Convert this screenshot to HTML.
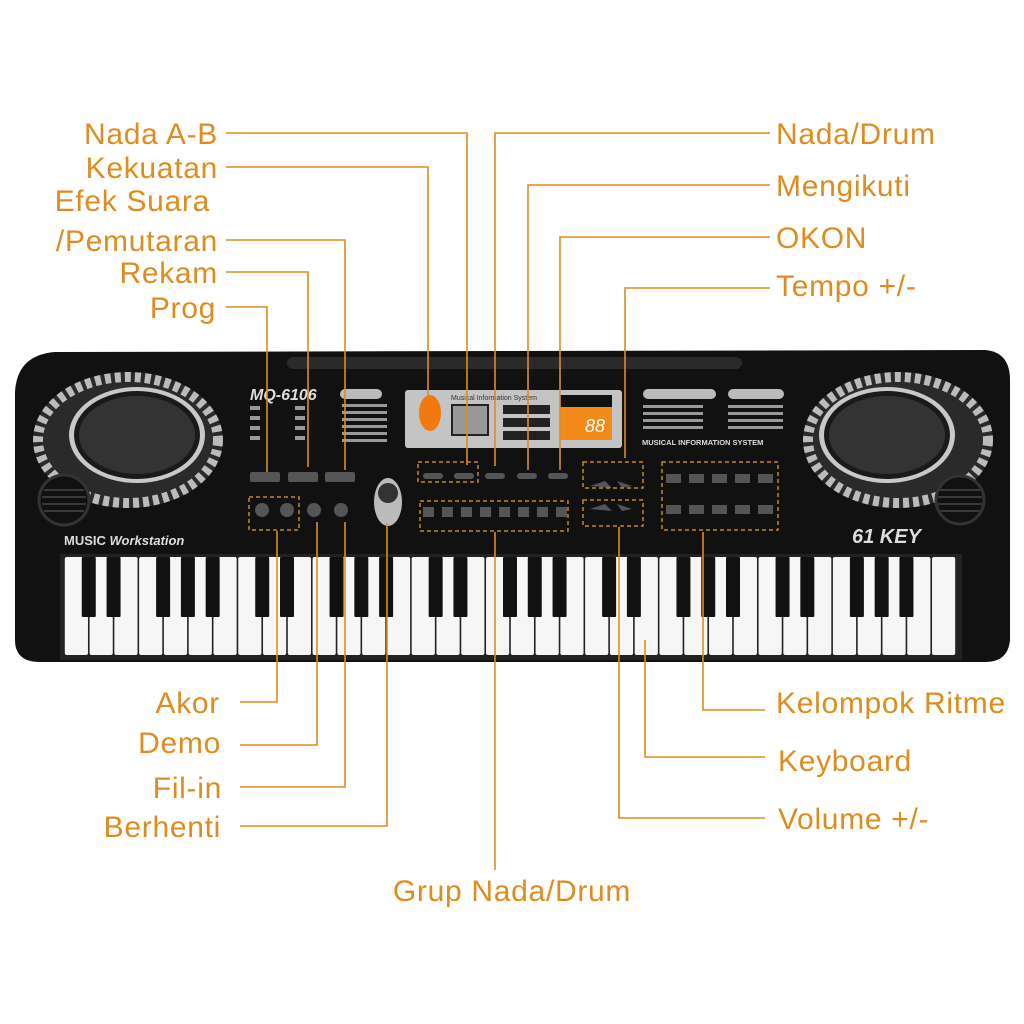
<!DOCTYPE html>
<html><head><meta charset="utf-8"><style>
html,body{margin:0;padding:0;background:#fff;}
svg{display:block;}
.l{font-family:"Liberation Sans",sans-serif;font-size:30px;letter-spacing:0.7px;fill:#de8c1f;}
.s{font-family:"Liberation Sans",sans-serif;fill:#ddd;font-weight:bold;}
</style></head><body>
<svg width="1024" height="1024" viewBox="0 0 1024 1024" xmlns="http://www.w3.org/2000/svg">
<rect width="1024" height="1024" fill="#fff"/>
<path d="M55,352 L985,350 Q1010,352 1010,380 L1010,640 Q1008,662 985,662 L40,662 Q15,662 15,640 L15,392 Q17,355 55,352 Z" fill="#111"/>
<rect x="287" y="357" width="455" height="12" rx="6" fill="#2a2a2a"/>
<ellipse cx="128" cy="440" rx="95" ry="68" fill="#2a2a2a"/>
<ellipse cx="128" cy="440" rx="90" ry="63" fill="none" stroke="#bbb" stroke-width="10" stroke-dasharray="6 4"/>
<ellipse cx="137" cy="435" rx="68" ry="48" fill="#c8c8c8"/>
<ellipse cx="137" cy="435" rx="63" ry="44" fill="#1a1a1a"/>
<ellipse cx="137" cy="435" rx="58" ry="39" fill="#333"/>
<circle cx="64" cy="500" r="25" fill="#111" stroke="#333" stroke-width="3"/>
<g stroke="#3a3a3a" stroke-width="2"><line x1="44" y1="490" x2="84" y2="490"/><line x1="42" y1="497" x2="86" y2="497"/><line x1="42" y1="504" x2="86" y2="504"/><line x1="44" y1="511" x2="84" y2="511"/></g>
<ellipse cx="898" cy="440" rx="95" ry="68" fill="#2a2a2a"/>
<ellipse cx="898" cy="440" rx="90" ry="63" fill="none" stroke="#bbb" stroke-width="10" stroke-dasharray="6 4"/>
<ellipse cx="887" cy="435" rx="68" ry="48" fill="#c8c8c8"/>
<ellipse cx="887" cy="435" rx="63" ry="44" fill="#1a1a1a"/>
<ellipse cx="887" cy="435" rx="58" ry="39" fill="#333"/>
<circle cx="960" cy="500" r="24" fill="#111" stroke="#333" stroke-width="3"/>
<g stroke="#3a3a3a" stroke-width="2"><line x1="940" y1="490" x2="980" y2="490"/><line x1="938" y1="497" x2="982" y2="497"/><line x1="938" y1="504" x2="982" y2="504"/><line x1="940" y1="511" x2="980" y2="511"/></g>
<text x="250" y="400" class="s" font-size="16" font-style="italic" fill="#ddd">MQ-6106</text>
<rect x="340" y="389" width="42" height="10" rx="5" fill="#bbb"/>
<text x="64" y="545" class="s" font-size="13">MUSIC <tspan font-style="italic">Workstation</tspan></text>
<text x="852" y="543" class="s" font-size="20" font-style="italic">61 KEY</text>
<g fill="#999"><rect x="250" y="406" width="10" height="4"/><rect x="250" y="416" width="10" height="4"/><rect x="250" y="426" width="10" height="4"/><rect x="250" y="436" width="10" height="4"/><rect x="295" y="406" width="10" height="4"/><rect x="295" y="416" width="10" height="4"/><rect x="295" y="426" width="10" height="4"/><rect x="295" y="436" width="10" height="4"/>
<rect x="342" y="404" width="45" height="3"/><rect x="342" y="411" width="45" height="3"/><rect x="342" y="418" width="45" height="3"/><rect x="342" y="425" width="45" height="3"/><rect x="342" y="432" width="45" height="3"/><rect x="342" y="439" width="45" height="3"/>
<rect x="643" y="389" width="73" height="10" rx="5" fill="#bbb"/><rect x="728" y="389" width="56" height="10" rx="5" fill="#bbb"/>
<rect x="643" y="405" width="60" height="3"/><rect x="643" y="412" width="60" height="3"/><rect x="643" y="419" width="60" height="3"/><rect x="643" y="426" width="60" height="3"/><rect x="728" y="405" width="55" height="3"/><rect x="728" y="412" width="55" height="3"/><rect x="728" y="419" width="55" height="3"/><rect x="728" y="426" width="55" height="3"/></g>
<text x="642" y="445" class="s" font-size="7.5" fill="#ccc">MUSICAL INFORMATION SYSTEM</text>
<rect x="405" y="390" width="217" height="58" rx="3" fill="#c4c4c4"/>
<ellipse cx="430" cy="413" rx="11" ry="18" fill="#f07a10"/>
<rect x="452" y="405" width="36" height="30" fill="#999" stroke="#222" stroke-width="2"/>
<text x="451" y="400" font-family="Liberation Sans" font-size="7" fill="#333">Musical Information System</text>
<rect x="503" y="405" width="47" height="9" fill="#222"/><rect x="503" y="418" width="47" height="9" fill="#222"/><rect x="503" y="431" width="47" height="9" fill="#222"/>
<rect x="560" y="395" width="52" height="45" fill="#f28a1a"/>
<rect x="560" y="395" width="52" height="12" fill="#111"/>
<text x="585" y="432" font-family="Liberation Sans" font-size="18" fill="#fff" font-style="italic">88</text>
<g fill="#555"><rect x="250" y="472" width="30" height="10" rx="2"/><rect x="288" y="472" width="30" height="10" rx="2"/><rect x="325" y="472" width="30" height="10" rx="2"/>
<rect x="423" y="473" width="20" height="6" rx="3"/><rect x="454" y="473" width="20" height="6" rx="3"/><rect x="485" y="473" width="20" height="6" rx="3"/><rect x="517" y="473" width="20" height="6" rx="3"/><rect x="548" y="473" width="20" height="6" rx="3"/>
<circle cx="262" cy="510" r="7"/><circle cx="287" cy="510" r="7"/><circle cx="314" cy="510" r="7"/><circle cx="341" cy="510" r="7"/></g>
<ellipse cx="388" cy="502" rx="14" ry="24" fill="#bbb"/><circle cx="388" cy="493" r="10" fill="#333"/>
<g fill="#555"><rect x="423" y="507" width="11" height="10"/><rect x="442" y="507" width="11" height="10"/><rect x="461" y="507" width="11" height="10"/><rect x="480" y="507" width="11" height="10"/><rect x="499" y="507" width="11" height="10"/><rect x="518" y="507" width="11" height="10"/><rect x="537" y="507" width="11" height="10"/><rect x="556" y="507" width="11" height="10"/>
<rect x="666" y="474" width="15" height="9"/><rect x="689" y="474" width="15" height="9"/><rect x="712" y="474" width="15" height="9"/><rect x="735" y="474" width="15" height="9"/><rect x="758" y="474" width="15" height="9"/>
<rect x="666" y="505" width="15" height="9"/><rect x="689" y="505" width="15" height="9"/><rect x="712" y="505" width="15" height="9"/><rect x="735" y="505" width="15" height="9"/><rect x="758" y="505" width="15" height="9"/>
<path d="M590,486 L605,481 L612,488 Z"/><path d="M617,481 L632,486 L622,488 Z"/><path d="M590,509 L605,504 L612,511 Z"/><path d="M617,504 L632,509 L622,511 Z"/></g>
<g fill="none" stroke="#c9852a" stroke-width="1.5" stroke-dasharray="4 3">
<rect x="249" y="497" width="50" height="33"/><rect x="418" y="462" width="60" height="20"/><rect x="420" y="501" width="148" height="30"/><rect x="583" y="462" width="60" height="26"/><rect x="583" y="500" width="60" height="26"/><rect x="662" y="462" width="116" height="68"/></g>
<rect x="60" y="554" width="902" height="106" fill="#222"/>
<g id="keys"></g>
<g stroke="#de8c1f" stroke-width="1.6" fill="none">
<polyline points="226,133 467,133 467,465"/>
<polyline points="226,167 428,167 428,398"/>
<polyline points="226,240 345,240 345,470"/>
<polyline points="226,272 308,272 308,467"/>
<polyline points="226,307 267,307 267,472"/>
<polyline points="770,133 495,133 495,466"/>
<polyline points="770,185 528,185 528,470"/>
<polyline points="770,237 560,237 560,470"/>
<polyline points="770,288 625,288 625,458"/>
<polyline points="240,702 277,702 277,531"/>
<polyline points="240,745 317,745 317,522"/>
<polyline points="240,787 345,787 345,522"/>
<polyline points="240,826 387,826 387,523"/>
<polyline points="495,870 495,532"/>
<polyline points="765,710 703,710 703,532"/>
<polyline points="765,757 645,757 645,640"/>
<polyline points="765,818 619,818 619,527"/>
</g>
<g class="l">
<text x="218" y="144" text-anchor="end">Nada A-B</text>
<text x="218" y="178" text-anchor="end">Kekuatan</text>
<text x="210" y="211" text-anchor="end">Efek Suara</text>
<text x="218" y="251" text-anchor="end">/Pemutaran</text>
<text x="218" y="283" text-anchor="end">Rekam</text>
<text x="216" y="318" text-anchor="end">Prog</text>
<text x="776" y="144">Nada/Drum</text>
<text x="776" y="196">Mengikuti</text>
<text x="776" y="248">OKON</text>
<text x="776" y="296">Tempo +/-</text>
<text x="220" y="713" text-anchor="end">Akor</text>
<text x="221" y="753" text-anchor="end">Demo</text>
<text x="222" y="798" text-anchor="end">Fil-in</text>
<text x="221" y="837" text-anchor="end">Berhenti</text>
<text x="512" y="901" text-anchor="middle">Grup Nada/Drum</text>
<text x="776" y="713">Kelompok Ritme</text>
<text x="778" y="771">Keyboard</text>
<text x="778" y="829">Volume +/-</text>
</g>
</svg>
<script>
(function(){
var g=document.getElementById('keys');
var x0=64,w=892/36,s='';
for(var i=0;i<36;i++){s+='<rect x="'+(x0+i*w+0.8)+'" y="557" width="'+(w-1.6)+'" height="98" rx="2" fill="#f6f6f6"/>';}
var pat=[1,1,0,1,1,1,0];
for(var i=0;i<35;i++){if(pat[i%7]){var cx=x0+(i+1)*w;s+='<rect x="'+(cx-7)+'" y="557" width="14" height="60" rx="1" fill="#111"/>';}}
g.innerHTML=s;
})();
</script>
</body></html>
